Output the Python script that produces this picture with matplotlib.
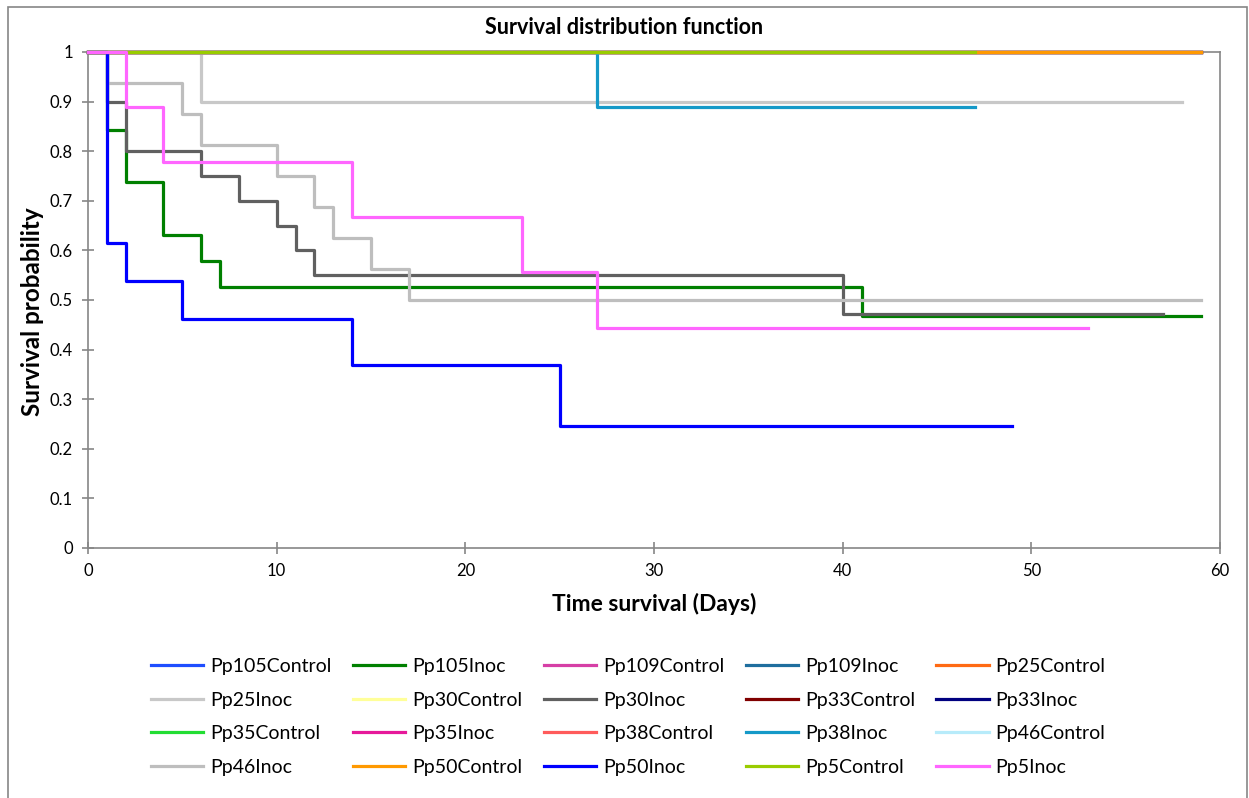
import matplotlib
matplotlib.use('Agg')
import matplotlib.pyplot as plt
from matplotlib.patches import Rectangle

plt.rcParams['font.family'] = ['Lato', 'DejaVu Sans']

# series names in the order of the legend
names = ['Pp105Control', 'Pp105Inoc', 'Pp109Control', 'Pp109Inoc', 'Pp25Control',
         'Pp25Inoc', 'Pp30Control', 'Pp30Inoc', 'Pp33Control', 'Pp33Inoc',
         'Pp35Control', 'Pp35Inoc', 'Pp38Control', 'Pp38Inoc', 'Pp46Control',
         'Pp46Inoc', 'Pp50Control', 'Pp50Inoc', 'Pp5Control', 'Pp5Inoc']

colors = ['#1F4EFF', '#008000', '#D63FA6', '#1F6E9E', '#FF6A13',
          '#C8C8C8', '#FFFF99', '#606060', '#800000', '#000080',
          '#22DD33', '#E6199A', '#FF5B5B', '#1599C8', '#B7EBFA',
          '#BEBEBE', '#FF9900', '#0000FF', '#99CC00', '#FF66FF']

# step times (days) and survival probability after each step
times = {
    'Pp105Control': [0, 59],
    'Pp105Inoc': [0, 1, 2, 4, 6, 7, 41, 59],
    'Pp109Control': [0, 59],
    'Pp109Inoc': [0, 59],
    'Pp25Control': [0, 59],
    'Pp25Inoc': [0, 6, 58],
    'Pp30Control': [0, 59],
    'Pp30Inoc': [0, 1, 2, 6, 8, 10, 11, 12, 40, 57],
    'Pp33Control': [0, 59],
    'Pp33Inoc': [0, 59],
    'Pp35Control': [0, 59],
    'Pp35Inoc': [0, 59],
    'Pp38Control': [0, 59],
    'Pp38Inoc': [0, 27, 47],
    'Pp46Control': [0, 59],
    'Pp46Inoc': [0, 1, 5, 6, 10, 12, 13, 15, 17, 59],
    'Pp50Control': [0, 59],
    'Pp50Inoc': [0, 1, 2, 5, 14, 25, 49],
    'Pp5Control': [0, 47],
    'Pp5Inoc': [0, 2, 4, 14, 23, 27, 53],
}
surv = {
    'Pp105Control': [1, 1],
    'Pp105Inoc': [1, 0.842, 0.737, 0.632, 0.579, 0.526, 0.468, 0.468],
    'Pp109Control': [1, 1],
    'Pp109Inoc': [1, 1],
    'Pp25Control': [1, 1],
    'Pp25Inoc': [1, 0.9, 0.9],
    'Pp30Control': [1, 1],
    'Pp30Inoc': [1, 0.9, 0.8, 0.75, 0.7, 0.65, 0.6, 0.55, 0.471, 0.471],
    'Pp33Control': [1, 1],
    'Pp33Inoc': [1, 1],
    'Pp35Control': [1, 1],
    'Pp35Inoc': [1, 1],
    'Pp38Control': [1, 1],
    'Pp38Inoc': [1, 0.889, 0.889],
    'Pp46Control': [1, 1],
    'Pp46Inoc': [1, 0.9375, 0.875, 0.8125, 0.75, 0.6875, 0.625, 0.5625, 0.5, 0.5],
    'Pp50Control': [1, 1],
    'Pp50Inoc': [1, 0.615, 0.538, 0.462, 0.369, 0.246, 0.246],
    'Pp5Control': [1, 1],
    'Pp5Inoc': [1, 0.889, 0.778, 0.667, 0.556, 0.444, 0.444],
}

fig = plt.figure(figsize=(12.49, 7.98), dpi=100)
ax = fig.add_axes([88 / 1249, 1 - 548 / 798, (1220 - 88) / 1249, (548 - 52) / 798])

handles = []
for name, c in zip(names, colors):
    h, = ax.step(times[name], surv[name], where='post', color=c, lw=2.3,
                 label=name, clip_on=False, zorder=3)
    handles.append(h)

ax.set_xlim(0, 60)
ax.set_ylim(0, 1)
ax.set_xticks(range(0, 61, 10))
ax.set_yticks([i / 10 for i in range(11)])
ax.set_yticklabels(['0', '0.1', '0.2', '0.3', '0.4', '0.5', '0.6', '0.7', '0.8', '0.9', '1'])
gray = '#868686'
for s in ax.spines.values():
    s.set_color(gray)
    s.set_linewidth(1.2)
ax.tick_params(direction='inout', length=8, width=1.2, color=gray,
               labelsize=12, pad=7)

fig.text(0.5, 1 - 27 / 798, 'Survival distribution function', ha='center', va='center',
         fontsize=15.5, fontweight='bold')
fig.text(654 / 1249, 1 - 604 / 798, 'Time survival (Days)', ha='center', va='center',
         fontsize=16.5, fontweight='bold')
fig.text(33 / 1249, 1 - 312 / 798, 'Survival probability', ha='center', va='center',
         rotation=90, fontsize=17.5, fontweight='bold')

# legend fills row by row, matplotlib fills column by column
order = [r * 5 + c for c in range(5) for r in range(4)]
fig.legend([handles[i] for i in order], [names[i] for i in order], ncol=5,
           loc='center', bbox_to_anchor=(0.503, 1 - 717 / 798), frameon=False,
           fontsize=14, handlelength=2.7, handletextpad=0.35, columnspacing=1.1,
           labelspacing=0.85)

fig.patches.append(Rectangle((8 / 1249, -0.01), (1247 - 8) / 1249, 1.01 - 7 / 798,
                             transform=fig.transFigure, fill=False, edgecolor=gray, lw=1.2))

fig.savefig('out.png', dpi=100)
